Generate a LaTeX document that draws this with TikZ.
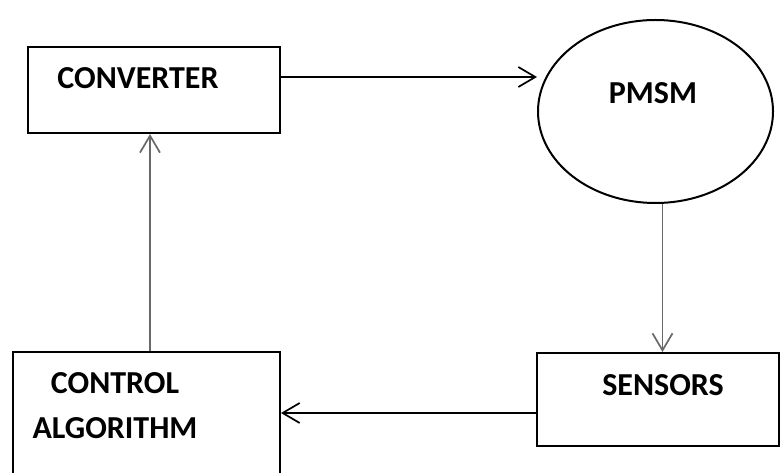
\documentclass[tikz,border=0pt]{standalone}
\usepackage{fontspec}
\setmainfont{Carlito}
\usetikzlibrary{shapes.geometric,arrows.meta}
\definecolor{arrgray}{RGB}{105,105,105}
\tikzset{
  box/.style={draw=black, line width=2pt, rectangle, inner sep=0pt},
  lbl/.style={font=\fontsize{32}{45}\selectfont\bfseries, inner sep=0pt, align=center},
  conn/.style={line width=1.7pt, -{Straight Barb[length=17pt,width=20pt,line width=1.7pt]}},
}
\begin{document}
\begin{tikzpicture}[x=1pt,y=-1pt]
\useasboundingbox (0,0) rectangle (781,473);
\clip (0,0) rectangle (781,473);
\fill[white] (0,0) rectangle (781,473);
\node[box, minimum width=252pt, minimum height=86pt] (conv) at (154,90) {};
\node[draw=black, line width=2pt, ellipse, inner sep=0pt, minimum width=235pt, minimum height=183pt] (pmsm) at (655.5,111.5) {};
\node[box, minimum width=242pt, minimum height=93pt] (sens) at (658,399.5) {};
\node[box, minimum width=267pt, minimum height=168pt] (ctrl) at (146.5,436) {};
\node[lbl] (tconv) at (138,78) {CONVERTER};
\node[lbl] (tpmsm) at (653,93) {PMSM};
\node[lbl] (tsens) at (663,385) {SENSORS};
\node[lbl] (tctrl) at (115,406) {CONTROL\\ALGORITHM};
\coordinate (a1) at ([yshift=13pt]conv.east);
\draw[conn, black] (a1) -- (a1 -| pmsm.west);
\coordinate (a2) at ([xshift=7pt]pmsm.south);
\draw[conn, arrgray] (a2) -- (a2 |- sens.north);
\coordinate (a3) at ([yshift=-13.5pt]sens.west);
\draw[conn, black] (a3) -- (a3 -| ctrl.east);
\coordinate (a4) at ([xshift=3.5pt]ctrl.north);
\draw[conn, arrgray] (a4) -- (a4 |- conv.south);
\end{tikzpicture}
\end{document}
